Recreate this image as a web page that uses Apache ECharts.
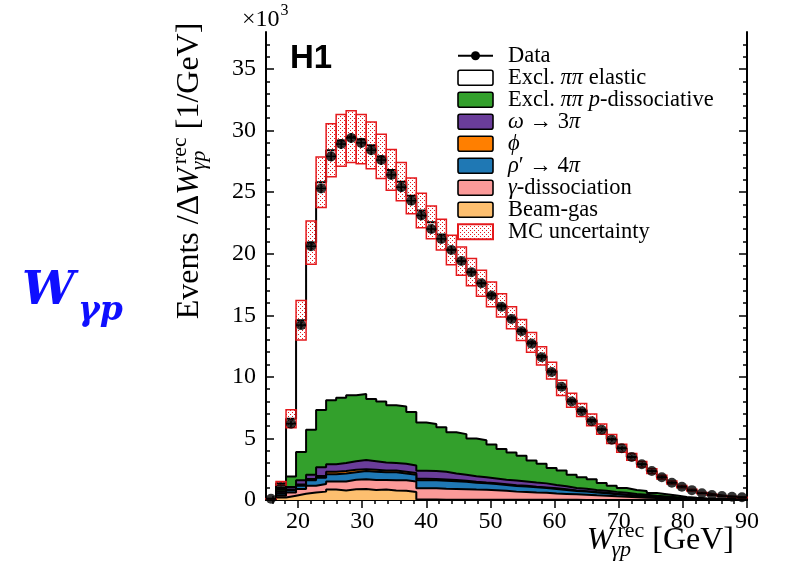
<!DOCTYPE html>
<html><head><meta charset="utf-8">
<script src="https://cdn.jsdelivr.net/npm/echarts@6/dist/echarts.min.js"></script>
<style>html,body{margin:0;padding:0;background:#fff}#c{width:785px;height:576px}</style>
</head><body><div id="c"></div>
<script>
// ---- bins (W_gamma_p, GeV) ----
const binEdges = [15,16.5625,18.125,19.6875,21.25,22.8125,24.375,25.9375,27.5,29.0625,30.625,32.1875,33.75,35.3125,36.875,38.4375,40,41.5625,43.125,44.6875,46.25,47.8125,49.375,50.9375,52.5,54.0625,55.625,57.1875,58.75,60.3125,61.875,63.4375,65,66.5625,68.125,69.6875,71.25,72.8125,74.375,75.9375,77.5,79.0625,80.625,82.1875,83.75,85.3125,86.875,88.4375,90];
// ---- data (events / GeV) ----
const dataVals = [100,1000,6200,14200,20600,25300,27900,28900,29400,29000,28400,27600,26400,25400,24300,23100,22000,21200,20300,19400,18500,17600,16600,15700,14700,13700,12700,11600,10400,9200,8000,7200,6400,5700,4900,4200,3500,2900,2350,1850,1400,1080,800,550,410,320,270,220];
const dataErr = [30,100,250,300,350,380,400,400,400,400,390,390,380,370,360,350,340,330,320,310,300,290,280,270,260,250,240,230,220,210,200,190,180,170,160,150,140,130,120,110,100,90,80,70,60,50,50,40];
// ---- MC components (events / GeV), stacked bottom -> top ----
const beamGas = [10,200,350,500,600,680,850,780,870,900,820,850,780,750,650,50,40,30,30,20,20,20,20,20,20,20,20,20,20,20,20,10,10,10,10,10,10,10,10,10,10,10,0,0,0,0,0,0];
const gammaDiss = [10,150,250,400,550,620,650,720,780,780,800,770,820,850,850,900,910,890,870,860,830,810,780,730,660,630,580,560,500,470,440,410,370,340,290,250,210,180,150,120,100,80,70,50,40,30,20,20];
const rhoPrime = [10,150,200,250,450,500,600,650,600,670,680,630,650,550,550,650,650,650,620,600,560,520,500,470,460,450,430,390,380,330,280,260,220,190,160,140,110,90,70,60,50,30,30,20,10,10,10,5];
const phiMeson = [0,50,50,100,100,150,200,200,200,150,150,150,150,150,150,120,110,100,100,90,80,70,60,60,60,50,50,50,50,50,40,40,40,40,40,30,30,20,20,20,10,10,10,10,10,5,5,5];
const omega = [10,150,200,350,350,700,600,650,700,750,700,650,600,650,600,660,640,630,530,480,430,430,390,370,380,350,340,330,270,250,200,200,180,180,160,150,120,120,100,80,60,50,30,20,20,15,15,10];
const pDiss = [10,200,850,2300,3650,4650,5200,5300,5350,5350,5050,4950,4700,4650,4350,3920,3820,3600,3350,3300,3080,3000,2750,2500,2270,2100,1780,1600,1380,1280,1070,930,860,620,490,390,340,320,210,180,130,70,40,30,20,20,10,10];
const elastic = [50,450,4700,10700,15200,18500,20300,20900,21000,20700,20600,19900,19100,18250,17550,17200,16380,15650,14800,14050,13500,12750,12200,11650,10950,10200,9600,8750,7900,6700,6050,5450,4820,4370,3800,3230,2680,2160,1790,1380,1060,830,620,430,320,240,200,150];
const mcUnc = [10,150,730,1600,1750,2050,2150,2100,2100,2000,1900,1800,1650,1550,1450,1400,1330,1250,1200,1150,1100,1050,1000,950,900,850,800,740,680,620,560,530,480,420,370,320,270,230,190,150,120,90,70,50,40,30,25,20];
// ---- ticks ----
const xTicks = [20,30,40,50,60,70,80,90];
const yTicks = [0,5000,10000,15000,20000,25000,30000,35000];
const yTickLabels = ['0','5','10','15','20','25','30','35'];

const layers = [
  {name:'Beam-gas', v:beamGas, c:'#fdbf6f'},
  {name:'γ-dissociation', v:gammaDiss, c:'#fb9a99'},
  {name:"ρ' → 4π", v:rhoPrime, c:'#1f78b4'},
  {name:'φ', v:phiMeson, c:'#ff7f00'},
  {name:'ω → 3π', v:omega, c:'#6a3d9a'},
  {name:'Excl. ππ p-dissociative', v:pDiss, c:'#33a02c'},
  {name:'Excl. ππ elastic', v:elastic, c:'#ffffff'}
];
const nb = dataVals.length;
const cum = []; let run = new Array(nb).fill(0);
layers.forEach(L => { run = run.map((s,k)=>s+L.v[k]); cum.push(run.slice()); });
const mcTotal = cum[cum.length-1];

const xMinor = []; for (let v=16; v<90; v+=2) if (v%10) xMinor.push(v);
const yMinor = []; for (let v=1000; v<38000; v+=1000) if (v%5000) yMinor.push(v);

const SERIF = '"Liberation Serif","DejaVu Serif",serif';
const RED = '#e4191c';

// dotted hatch pattern
const hc = document.createElement('canvas'); hc.width = 4; hc.height = 4;
const hg = hc.getContext('2d'); hg.fillStyle = RED;
hg.fillRect(0,0,1,1); hg.fillRect(2,2,1,1);
const hatch = {type:'pattern', image: hc, repeat:'repeat'};

const mctx = document.createElement('canvas').getContext('2d');
function tw(t, size, italic){ mctx.font = (italic?'italic ':'') + size + 'px ' + SERIF; return mctx.measureText(t).width; }
function txt(t, x, y, size, italic, extra){
  return Object.assign({type:'text', x:x, y:y, silent:true, style:{text:t, fontSize:size, fontFamily:SERIF, fontStyle: italic?'italic':'normal', fill:'#000', align:'left', verticalAlign:'middle', textAlign:'left', textVerticalAlign:'middle'}}, extra||{});
}
function mathTitle(F, S, pre, sup, sub, post){
  const out = []; let x = 0;
  pre.forEach(p => { out.push(txt(p.t, x, 0, F, p.i)); x += tw(p.t, F, p.i); });
  out.push(txt(sup, x + 4, -0.3*F, S, false));
  out.push(txt(sub, x - 2, 0.3*F, S, true));
  x += Math.max(tw(sup,S,false) + 4, tw(sub,S,true) - 2);
  out.push(txt(post, x, 0, F, false)); x += tw(post, F, false);
  return {els: out, width: x};
}

const yT = mathTitle(32, 22, [{t:'Events /Δ', i:false},{t:'W', i:true}], 'rec', 'γp', ' [1/GeV]');
yT.els.forEach(e => e.x -= yT.width/2);
const xT = mathTitle(32, 22, [{t:'W', i:true}], 'rec', 'γp', ' [GeV]');
xT.els.forEach(e => e.x -= xT.width);

// legend
const legX = 458, legW = 35, legH = 15, legTx = 508, legY0 = 55.7, legDy = 22;
const legTexts = ['Data','Excl. {i|ππ} elastic','Excl. {i|ππ} {i|p}-dissociative','{i|ω} → 3{i|π}','{i|ϕ}','{i|ρ}′ → 4{i|π}','{i|γ}-dissociation','Beam-gas','MC uncertainty'];
const legFill = [null,'#ffffff','#33a02c','#6a3d9a','#ff7f00','#1f78b4','#fb9a99','#fdbf6f','hatch'];
const LF = 22.5;
const legendEls = [];
legTexts.forEach((t,i) => {
  const cy = legY0 + i*legDy;
  if (i === 0) {
    legendEls.push({type:'line', silent:true, shape:{x1:legX, y1:cy, x2:legX+legW, y2:cy}, style:{stroke:'#000', lineWidth:2}});
    legendEls.push({type:'circle', silent:true, shape:{cx:legX+legW/2, cy:cy, r:4.5}, style:{fill:'#000'}});
  } else if (legFill[i] === 'hatch') {
    legendEls.push({type:'rect', silent:true, shape:{x:legX, y:cy-legH/2, width:legW, height:legH}, style:{fill:hatch, stroke:RED, lineWidth:2}});
  } else {
    legendEls.push({type:'rect', silent:true, shape:{x:legX, y:cy-legH/2, width:legW, height:legH, r:2}, style:{fill:legFill[i], stroke:'#000', lineWidth:1.6}});
  }
  legendEls.push({type:'text', silent:true, x:legTx, y:cy, style:{text:t, fontSize:LF, fontFamily:SERIF, fill:'#000', align:'left', verticalAlign:'middle', textAlign:'left', textVerticalAlign:'middle', rich:{i:{fontStyle:'italic', fontSize:LF, fontFamily:SERIF}}}});
});

const series = [];
for (let j = layers.length-1; j >= 0; j--) {
  const c = cum[j];
  series.push({
    type:'line', name: layers[j].name, step:'end', symbol:'none', silent:true, z: 2 + (layers.length-1-j),
    data: binEdges.map((e,k) => [e, c[Math.min(k, nb-1)]]),
    lineStyle:{color:'#000', width:2}, areaStyle:{color:layers[j].c, opacity:1}
  });
}
series.push({
  type:'custom', name:'MC uncertainty', silent:true, z:10,
  data: mcTotal.map((v,k) => [binEdges[k], binEdges[k+1], v, mcUnc[k]]),
  encode:{x:[0,1], y:[2]},
  renderItem(params, api){
    const lo=api.value(0), hi=api.value(1), c=api.value(2), u=api.value(3);
    const p1 = api.coord([lo, c+u]), p2 = api.coord([hi, c-u]);
    return {type:'rect', shape:{x:p1[0], y:p1[1], width:p2[0]-p1[0], height:p2[1]-p1[1]}, style:{fill:hatch, stroke:RED, lineWidth:1.5}};
  }
});
series.push({
  type:'custom', name:'Data err', silent:true, z:11,
  data: dataVals.map((v,k) => [binEdges[k], binEdges[k+1], v, dataErr[k]]),
  encode:{x:[0,1], y:[2]},
  renderItem(params, api){
    const lo=api.value(0), hi=api.value(1), v=api.value(2), e=api.value(3);
    const a = api.coord([lo, v]), b = api.coord([hi, v]);
    const m = (lo+hi)/2, t = api.coord([m, v+e]), d = api.coord([m, v-e]);
    return {type:'group', children:[
      {type:'line', shape:{x1:a[0], y1:a[1], x2:b[0], y2:b[1]}, style:{stroke:'#000', lineWidth:1.5}},
      {type:'line', shape:{x1:t[0], y1:t[1], x2:d[0], y2:d[1]}, style:{stroke:'#000', lineWidth:1.5}}
    ]};
  }
});
series.push({
  type:'scatter', name:'Data', silent:true, z:12, symbol:'circle', symbolSize:10,
  itemStyle:{color:'#000'},
  data: dataVals.map((v,k) => [(binEdges[k]+binEdges[k+1])/2, v])
});

const axLine = {show:true, lineStyle:{color:'#000', width:2}};
function xAx(pos, major, labels){
  return {type:'value', min:15, max:90, position:pos, gridIndex:0,
    axisLine: major ? axLine : {show:false},
    axisTick:{show:true, inside:true, length: major?8:4, customValues: major?xTicks:xMinor, lineStyle:{color:'#000', width:1.5}},
    axisLabel: labels ? {show:true, customValues:xTicks, fontFamily:SERIF, fontSize:24, color:'#000', margin:10} : {show:false},
    splitLine:{show:false}};
}
function yAx(pos, major, labels){
  return {type:'value', min:0, max:38000, position:pos, gridIndex:0,
    axisLine: major ? axLine : {show:false},
    axisTick:{show:true, inside:true, length: major?8:4, customValues: major?yTicks:yMinor, lineStyle:{color:'#000', width:1.5}},
    axisLabel: labels ? {show:true, customValues:yTicks, fontFamily:SERIF, fontSize:24, color:'#000', margin:10,
      formatter: v => { const i = yTicks.indexOf(v); return i>=0 ? yTickLabels[i] : ''; }} : {show:false},
    splitLine:{show:false}};
}

const graphic = [].concat(
  legendEls,
  [
    {type:'text', silent:true, x:290, y:59, style:{text:'H1', fontSize:33, fontWeight:'bold', fontFamily:'"Liberation Sans",Arial,sans-serif', fill:'#000', align:'left', verticalAlign:'middle', textAlign:'left', textVerticalAlign:'middle'}},
    txt('×10', 242, 20, 24, false),
    txt('3', 242 + tw('×10',24,false) + 1, 11, 16, false),
    {type:'group', x:734, y:541, silent:true, children: xT.els},
    {type:'group', x:190, y:171, rotation:Math.PI/2, silent:true, children: yT.els},
    {type:'text', silent:true, x:22, y:292, style:{text:'W', fontSize:47, fontWeight:'bold', fontStyle:'italic', fontFamily:'"DejaVu Serif",serif', fill:'#0f0fff', align:'left', verticalAlign:'middle', textAlign:'left', textVerticalAlign:'middle'}},
    {type:'text', silent:true, x:78, y:311, style:{text:'γp', fontSize:33, fontWeight:'bold', fontStyle:'italic', fontFamily:'"DejaVu Serif",serif', fill:'#0f0fff', align:'left', verticalAlign:'middle', textAlign:'left', textVerticalAlign:'middle'}}
  ]
);

const chart = echarts.init(document.getElementById('c'), null, {renderer:'canvas'});
chart.setOption({
  animation:false,
  backgroundColor:'#ffffff',
  grid:{left:266, right:38, top:32, bottom:76, containLabel:false},
  xAxis:[xAx('bottom',true,true), xAx('bottom',false,false), xAx('top',true,false), xAx('top',false,false)],
  yAxis:[yAx('left',true,true), yAx('left',false,false), yAx('right',true,false), yAx('right',false,false)],
  series: series,
  graphic: graphic
});
</script></body></html>
